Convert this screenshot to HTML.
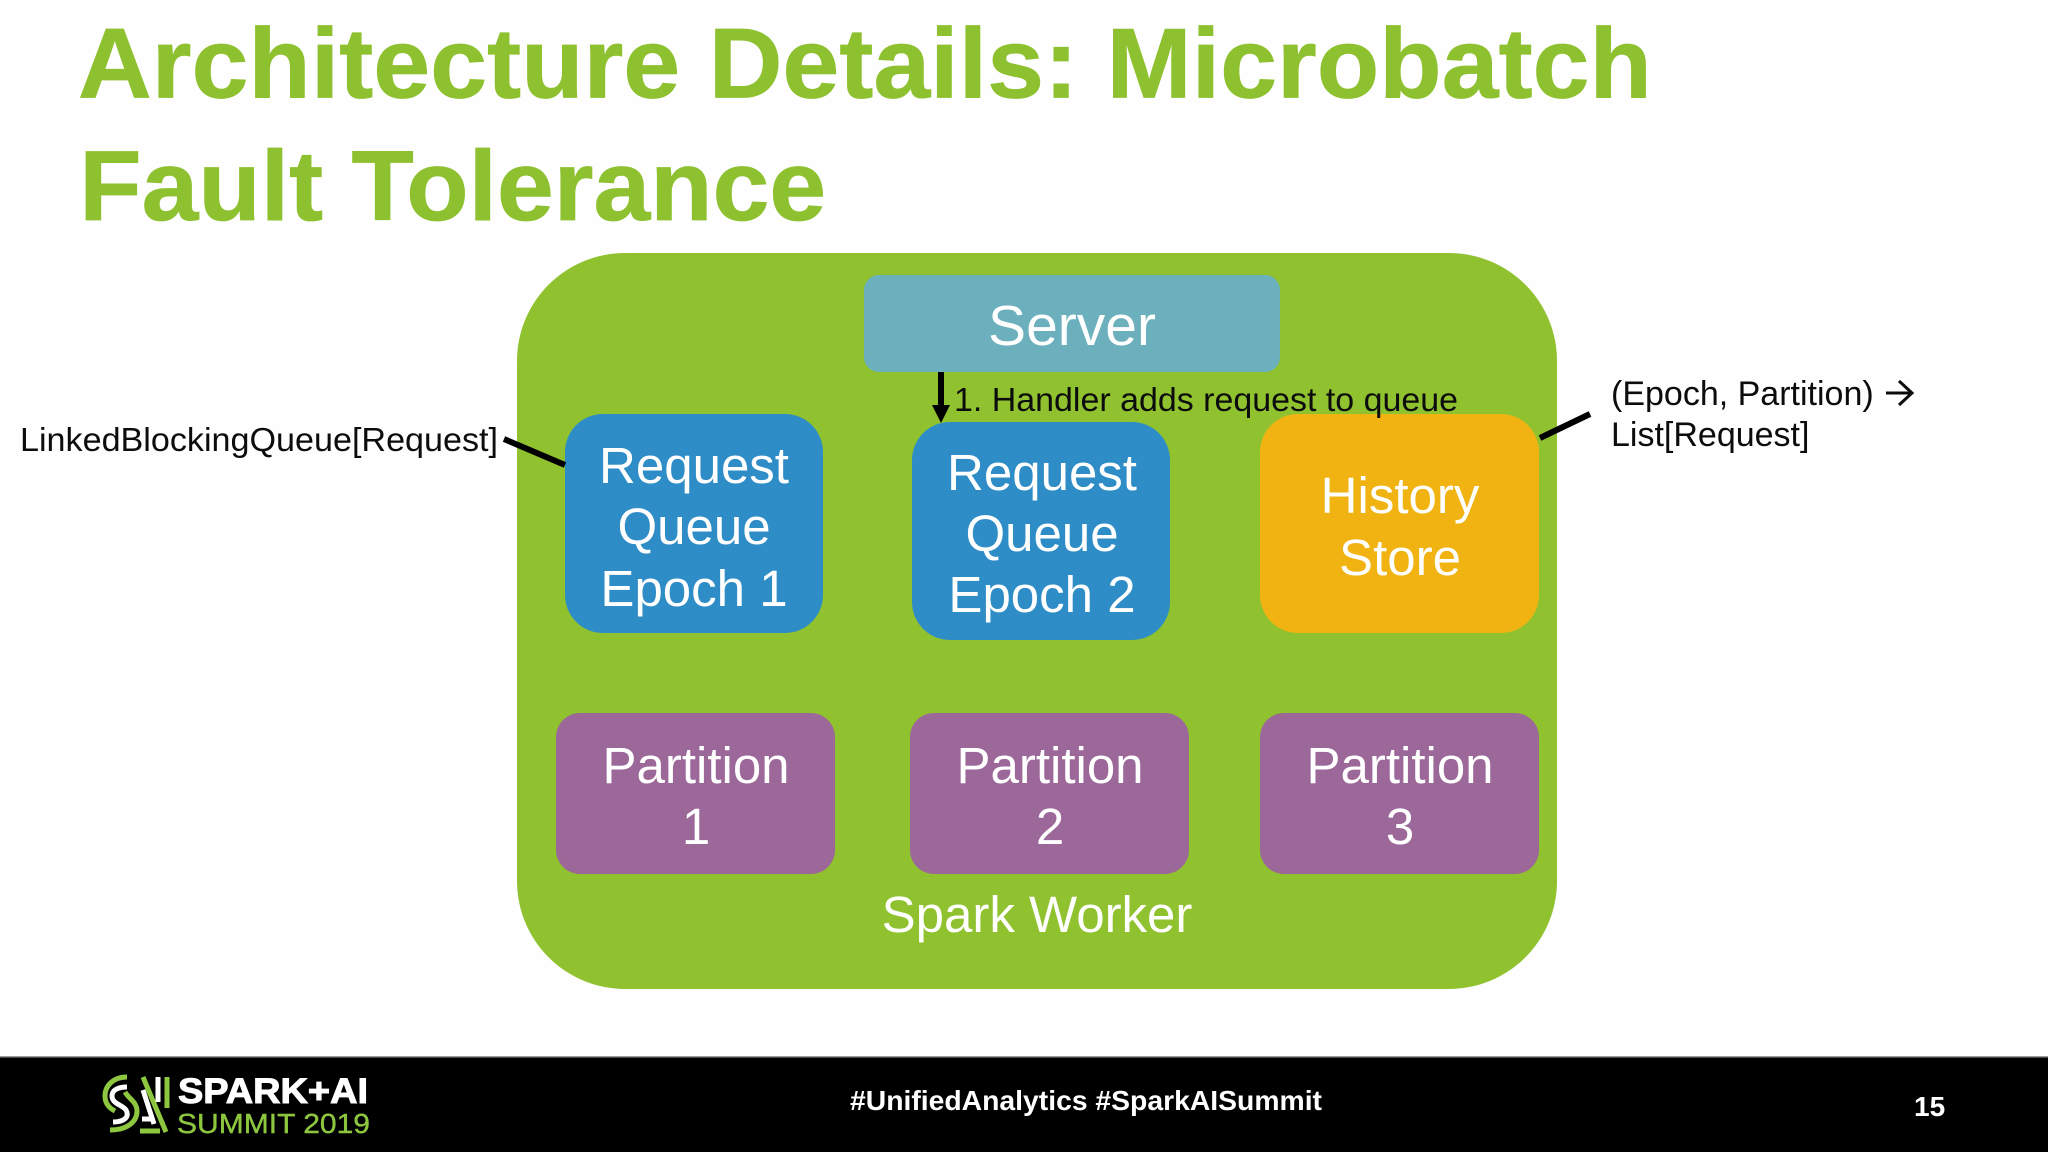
<!DOCTYPE html>
<html><head><meta charset="utf-8"><style>
html,body{margin:0;padding:0;background:#fefefe;width:2048px;height:1152px;overflow:hidden}
svg{display:block}
text{font-family:"Liberation Sans",sans-serif}
.w{fill:#fff;font-size:51px;text-anchor:middle}
.k{fill:#0c0c0c;font-size:33.5px}
</style></head><body>
<svg width="2048" height="1152" viewBox="0 0 2048 1152" xmlns="http://www.w3.org/2000/svg">
<rect width="2048" height="1152" fill="#fefefe"/>
<g transform="scale(1.03,1)">
<text x="75.7" y="97.5" font-size="99" font-weight="700" fill="#8ec12f" stroke="#8ec12f" stroke-width=".8" textLength="1528" lengthAdjust="spacing">Architecture Details: Microbatch</text>
<text x="77" y="220" font-size="99" font-weight="700" fill="#8ec12f" stroke="#8ec12f" stroke-width=".8" textLength="725" lengthAdjust="spacing">Fault Tolerance</text>
</g>

<rect x="517" y="253" width="1040" height="736" rx="108" fill="#90c230"/>
<rect x="864" y="275" width="416" height="97" rx="15" fill="#6cb0bd"/>
<rect x="565" y="414" width="258" height="219" rx="38" fill="#2e8cc6"/>
<rect x="912" y="422" width="258" height="218" rx="38" fill="#2e8cc6"/>
<rect x="1260" y="414" width="279" height="219" rx="38" fill="#f0b312"/>
<rect x="556" y="713" width="279" height="161" rx="24" fill="#9c6799"/>
<rect x="910" y="713" width="279" height="161" rx="24" fill="#9c6799"/>
<rect x="1260" y="713" width="279" height="161" rx="24" fill="#9c6799"/>

<text class="w" x="1072" y="345" style="font-size:57px">Server</text>
<text class="w" x="694" y="483">Request</text>
<text class="w" x="694" y="544">Queue</text>
<text class="w" x="694" y="606">Epoch 1</text>
<text class="w" x="1042" y="490">Request</text>
<text class="w" x="1042" y="551">Queue</text>
<text class="w" x="1042" y="612">Epoch 2</text>
<text class="w" x="1400" y="513">History</text>
<text class="w" x="1400" y="575">Store</text>
<text class="w" x="696" y="783">Partition</text>
<text class="w" x="696" y="844">1</text>
<text class="w" x="1050" y="783">Partition</text>
<text class="w" x="1050" y="844">2</text>
<text class="w" x="1400" y="783">Partition</text>
<text class="w" x="1400" y="844">3</text>
<text class="w" x="1037" y="932">Spark Worker</text>

<rect x="938" y="372" width="6" height="34" fill="#000"/>
<polygon points="932,405 950,405 941,423" fill="#000"/>
<text class="k" x="954" y="411" textLength="504" lengthAdjust="spacingAndGlyphs">1. Handler adds request to queue</text>
<line x1="504" y1="439" x2="565" y2="465" stroke="#000" stroke-width="6"/>
<line x1="1540" y1="438" x2="1590" y2="414" stroke="#000" stroke-width="6"/>
<text class="k" x="20" y="451" textLength="478" lengthAdjust="spacingAndGlyphs">LinkedBlockingQueue[Request]</text>
<text class="k" x="1611" y="405" style="font-size:34px">(Epoch, Partition)</text>
<path d="M1886 393H1911M1899 381L1912 393L1899 405" fill="none" stroke="#0c0c0c" stroke-width="3"/>
<text class="k" x="1611" y="446" style="font-size:34px">List[Request]</text>

<rect x="0" y="1057" width="2048" height="95" fill="#000"/>
<rect x="0" y="1056" width="2048" height="1.5" fill="#999"/>

<g fill="none" stroke-width="5">
<path d="M127 1077C113 1077 105 1086 105 1096C105 1103 109 1108 115 1111" stroke="#8dc63f"/>
<path d="M127 1087C118 1087 112 1090 112 1096C112 1104 123 1105 126 1110C130 1117 124 1122 113 1122" stroke="#fff"/>
<path d="M110 1130C127 1130 137 1122 137 1111C137 1102 129 1099 125 1092" stroke="#8dc63f"/>
<path d="M143 1077L166 1132" stroke="#8dc63f"/>
<path d="M140 1131H160" stroke="#8dc63f"/>
<path d="M143 1090L154 1124M142 1119H154" stroke="#fff"/>
<path d="M158 1077V1102" stroke="#fff"/>
<path d="M167 1077V1108" stroke="#8dc63f"/>
</g>
<text x="178" y="1103" font-size="35" font-weight="700" fill="#fff" stroke="#fff" stroke-width="1" textLength="190" lengthAdjust="spacingAndGlyphs">SPARK+AI</text>
<text x="177" y="1133" font-size="28" fill="#8dc63f" stroke="#8dc63f" stroke-width=".4" textLength="193" lengthAdjust="spacingAndGlyphs">SUMMIT 2019</text>
<text x="1086" y="1110" font-size="28" font-weight="700" fill="#fff" text-anchor="middle" textLength="472" lengthAdjust="spacingAndGlyphs">#UnifiedAnalytics #SparkAISummit</text>
<text x="1914" y="1116" font-size="28" font-weight="700" fill="#fff">15</text>
</svg>
</body></html>
